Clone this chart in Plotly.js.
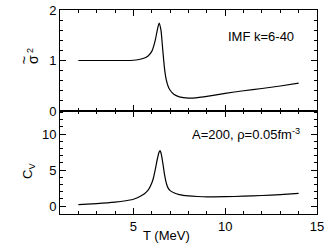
<!DOCTYPE html>
<html><head><meta charset="utf-8">
<script src="https://cdn.plot.ly/plotly-3.0.1.min.js"></script>
<style>html,body{margin:0;padding:0;background:#fff;}#c{width:325px;height:248px;}</style>
</head><body><div id="c"></div>
<script>
var tSigma = [2, 3, 4, 4.5, 5, 5.3, 5.6, 5.8, 6.0, 6.1, 6.2, 6.3, 6.4, 6.5, 6.6, 6.7, 6.8, 6.9, 7.0, 7.2, 7.5, 8.0, 8.5, 9, 10, 11, 12, 13, 14];
var sigma2 = [1.0, 1.0, 1.0, 1.0, 1.005, 1.02, 1.05, 1.09, 1.18, 1.28, 1.42, 1.6, 1.74, 1.6, 1.2, 0.82, 0.6, 0.48, 0.41, 0.33, 0.28, 0.255, 0.265, 0.29, 0.35, 0.40, 0.445, 0.495, 0.55];
var tCv = [2, 3, 4, 4.5, 5, 5.3, 5.6, 5.8, 6.0, 6.1, 6.2, 6.3, 6.4, 6.45, 6.5, 6.6, 6.7, 6.8, 6.9, 7.0, 7.2, 7.5, 8.0, 8.5, 9, 10, 11, 12, 13, 14];
var cv = [0.2, 0.35, 0.55, 0.7, 0.95, 1.25, 1.7, 2.2, 3.2, 4.0, 5.2, 6.5, 7.5, 7.7, 7.4, 6.0, 4.3, 3.1, 2.45, 2.15, 1.85, 1.6, 1.42, 1.33, 1.28, 1.3, 1.37, 1.47, 1.6, 1.76];

var FONT = "Liberation Sans, Arial, sans-serif";
var W = 325, H = 248, ML = 60, MR = 8, MT = 10, MB = 34;
var PW = W - ML - MR, PH = H - MT - MB;
function px(xp){ return (xp - ML) / PW; }
function py(yp){ return (H - MB - yp) / PH; }

var axBase = {showgrid:false, zeroline:false, showline:true, linecolor:'#000', linewidth:1, mirror:'allticks',
  ticks:'inside', ticklen:6, tickwidth:1, tickcolor:'#000', tickfont:{family:FONT, size:13, color:'#000'}};
var minorX = {dtick:1, tick0:0, ticks:'inside', ticklen:3, tickcolor:'#000', tickwidth:1};

var data = [
  {x:tSigma, y:sigma2, xaxis:'x2', yaxis:'y2', mode:'lines', line:{color:'#000', width:1.2, shape:'spline', smoothing:0.6}, hoverinfo:'none'},
  {x:tCv, y:cv, xaxis:'x', yaxis:'y', mode:'lines', line:{color:'#000', width:1.2, shape:'spline', smoothing:0.6}, hoverinfo:'none'}
];

var layout = {
  width:W, height:H, margin:{l:ML, r:MR, t:MT, b:MB},
  paper_bgcolor:'#fff', plot_bgcolor:'#fff', showlegend:false,
  font:{family:FONT, size:13, color:'#000'},
  xaxis: Object.assign({}, axBase, {range:[1,15], tickvals:[5,10,15], domain:[0,1], anchor:'y', minor:minorX}),
  yaxis: Object.assign({}, axBase, {range:[-1.1,13.2], tickvals:[0,5,10], domain:[0,0.505], anchor:'x', minor:minorX}),
  xaxis2: Object.assign({}, axBase, {range:[1,15], tickvals:[5,10,15], showticklabels:false, domain:[0,1], anchor:'y2', minor:minorX}),
  yaxis2: Object.assign({}, axBase, {range:[0,2], tickvals:[0,1,2], domain:[0.505,1], anchor:'x2',
      minor:{dtick:0.2, tick0:0, ticks:'inside', ticklen:3, tickcolor:'#000', tickwidth:1}}),
  annotations:[
    {text:'IMF k=6-40', xref:'paper', yref:'paper', x:0.92, y:0.87, xanchor:'right', yanchor:'middle', showarrow:false, font:{family:FONT, size:13}},
    {text:'A=200, ρ=0.05fm<sup>-3</sup>', xref:'paper', yref:'paper', x:0.94, y:0.39, xanchor:'right', yanchor:'middle', showarrow:false, font:{family:FONT, size:13}},
    {text:'T (MeV)', xref:'paper', yref:'paper', x:px(166), y:py(235), xanchor:'center', yanchor:'middle', showarrow:false, font:{family:FONT, size:13}},
    {text:'σ', xref:'paper', yref:'paper', x:px(33), y:py(60), xanchor:'center', yanchor:'middle', textangle:-90, showarrow:false, font:{family:FONT, size:14}},
    {text:'2', xref:'paper', yref:'paper', x:px(30), y:py(51), xanchor:'center', yanchor:'middle', textangle:-90, showarrow:false, font:{family:FONT, size:9}},
    {text:'~', xref:'paper', yref:'paper', x:px(22.5), y:py(60), xanchor:'center', yanchor:'middle', textangle:-90, showarrow:false, font:{family:FONT, size:15}},
    {text:'C<sub>V</sub>', xref:'paper', yref:'paper', x:px(28), y:py(171), xanchor:'center', yanchor:'middle', textangle:-90, showarrow:false, font:{family:FONT, size:13}}
  ]
};
Plotly.newPlot('c', data, layout, {displayModeBar:false, staticPlot:true});
</script></body></html>
